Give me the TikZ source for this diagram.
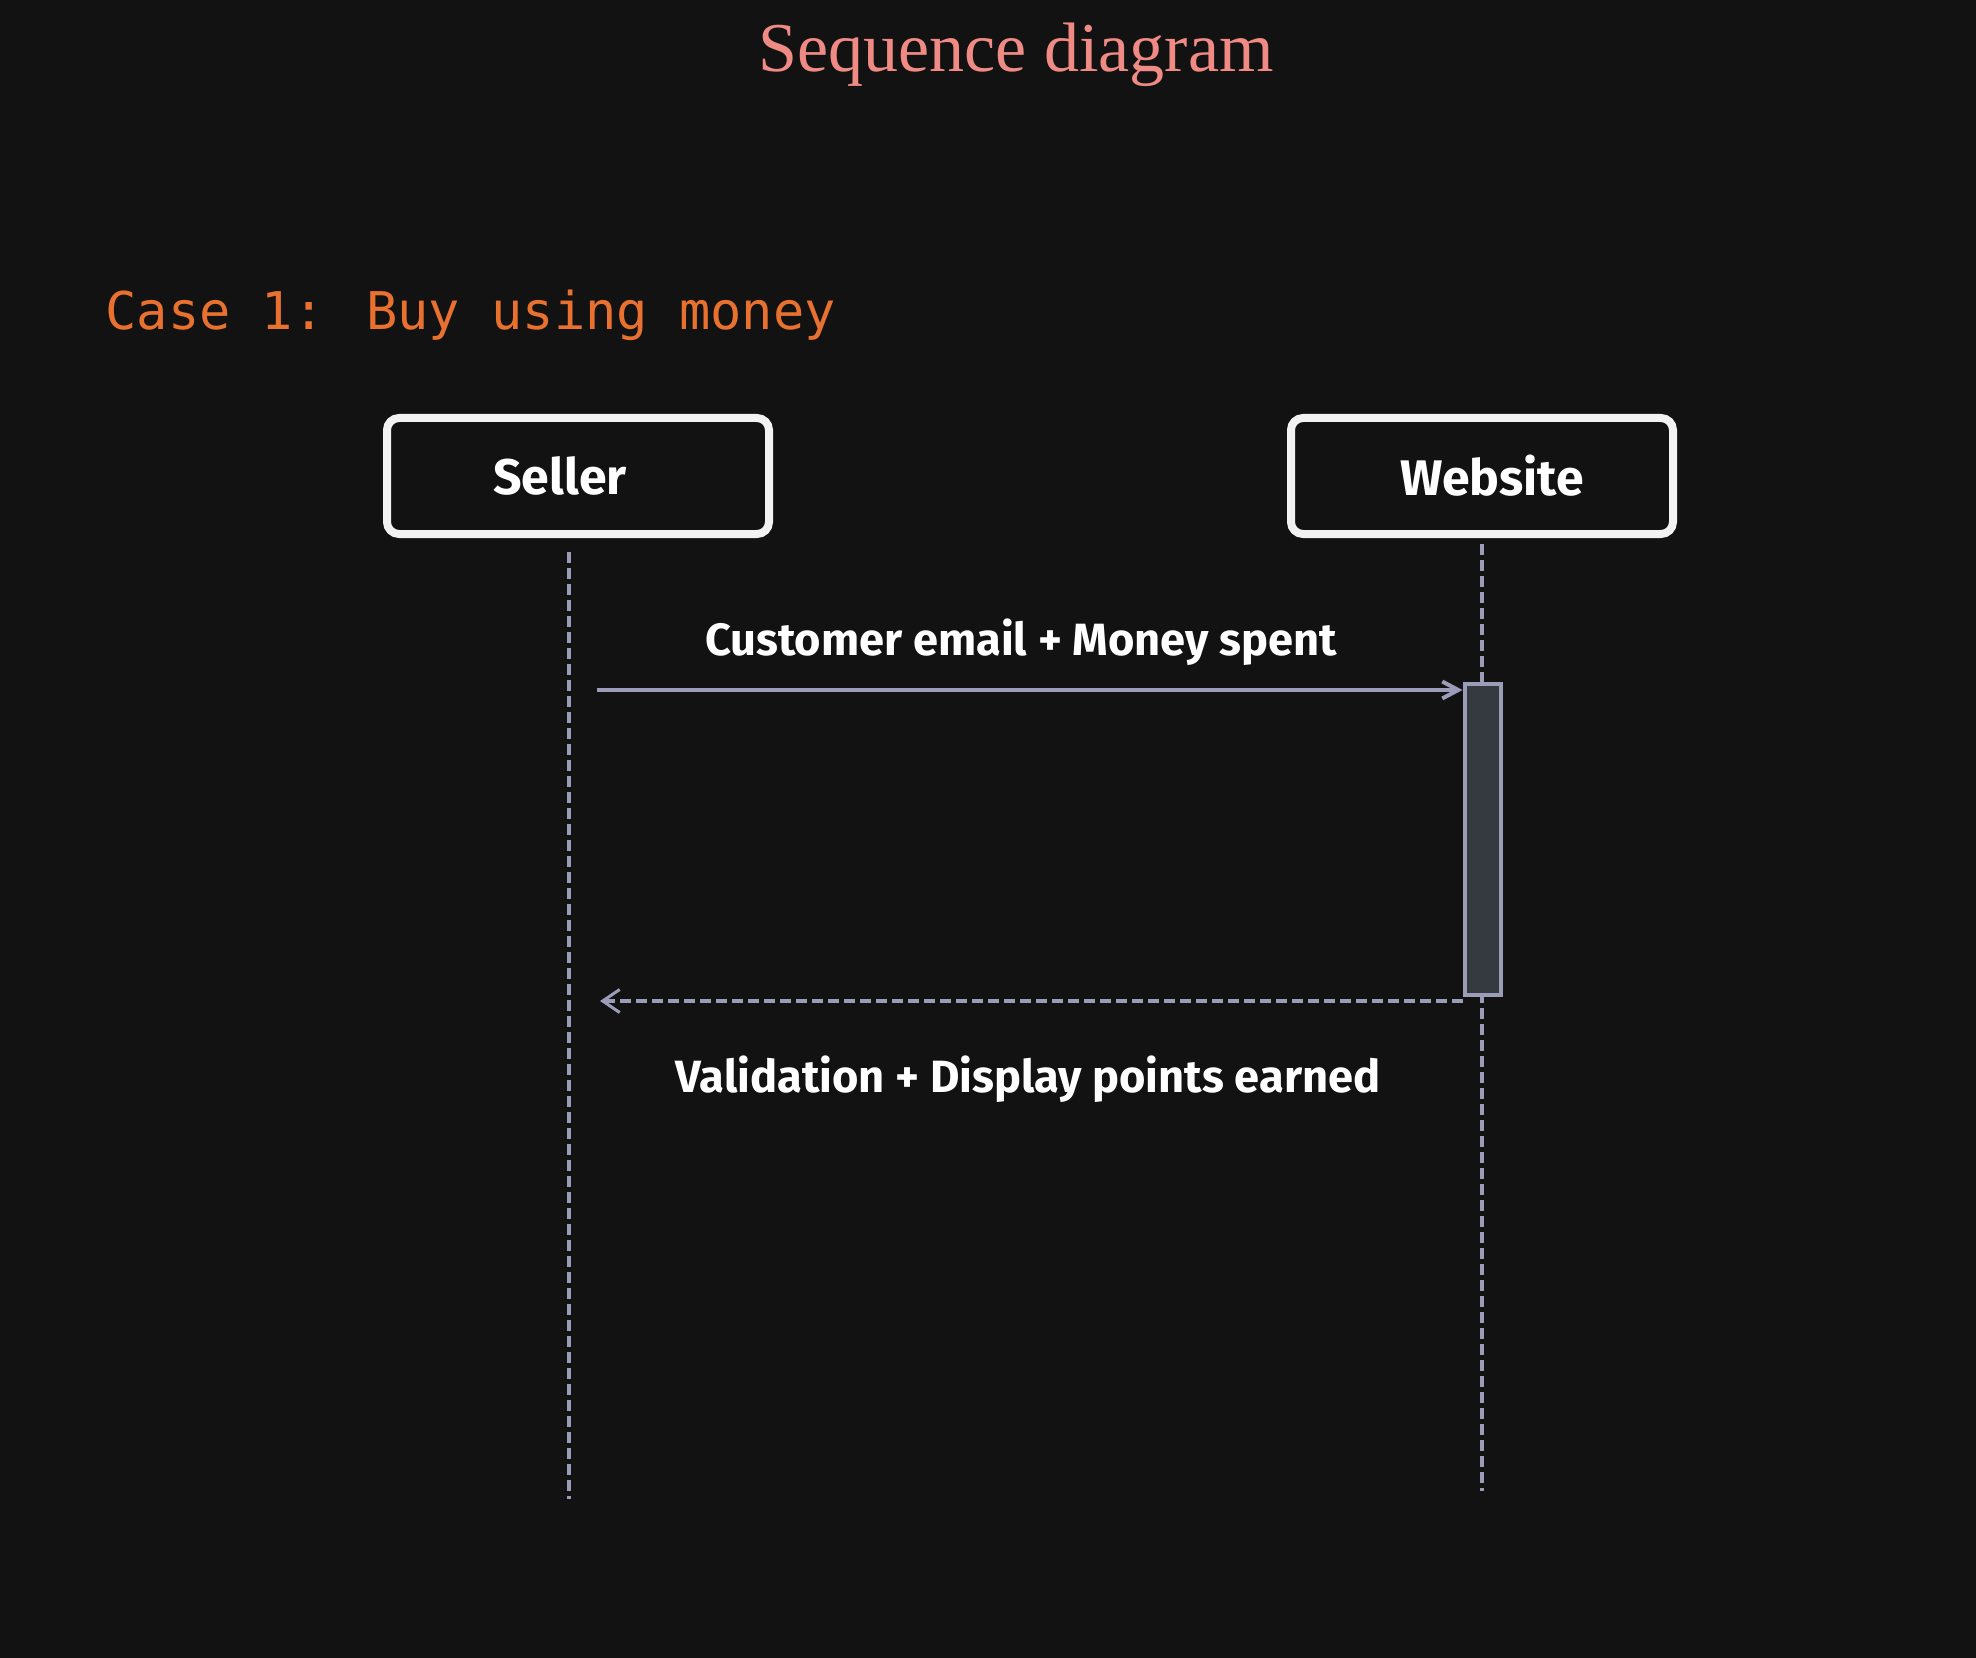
\documentclass[tikz,border=0pt]{standalone}
\usepackage{fontspec}
\setmainfont{Liberation Serif}
\newfontfamily\handfont{Fira Sans}
\newfontfamily\codefont{DejaVu Sans Mono}
\usetikzlibrary{arrows.meta, positioning}
\definecolor{bgcol}{HTML}{121212}
\definecolor{titlecol}{HTML}{F08A84}
\definecolor{casecol}{HTML}{E8712F}
\definecolor{linecol}{HTML}{9A9CB8}
\definecolor{actcol}{HTML}{343A40}
\definecolor{boxcol}{HTML}{F2F2F2}
\tikzset{
  actor/.style={draw=boxcol, line width=4pt, rounded corners=6pt, fill=bgcol, minimum width=191pt, minimum height=58pt, text=white, font=\handfont\bfseries\fontsize{25}{30}\selectfont},
  lifeline/.style={draw=linecol, line width=2pt, dash pattern=on 5.5pt off 2.5pt},
  msgtext/.style={text=white, anchor=base, font=\handfont\bfseries\fontsize{22.6}{27}\selectfont},
  activation/.style={draw=linecol, line width=2pt, fill=actcol, minimum width=18pt, minimum height=155.5pt, inner sep=0pt}
}

\begin{document}
\begin{tikzpicture}[x=0.5pt, y=-0.5pt]
            \fill[bgcol] (0,0) rectangle (1976,1658);
            \useasboundingbox (0,0) rectangle (1976,1658);
            \node[anchor=base, text=titlecol, font=\fontsize{35}{40}\selectfont] (title) at (1016,72) {Sequence diagram};
            \node[anchor=base west, inner sep=0pt, text=casecol, font=\codefont\fontsize{26}{30}\selectfont] (case) at (105,330) {Case 1: Buy using money};
            \node[actor] (seller) at (578,476) {Seller\hspace*{18pt}};
            \node[actor] (website) at (1482,476) {\hspace*{10pt}Website};
            \coordinate (sellertop) at (569,552);
            \coordinate (sellerend) at (569,1499);
            \coordinate (websitetop) at (1482,544);
            \coordinate (websiteend) at (1482,1491);
            \draw[lifeline] (sellertop)--(sellerend);
            \draw[lifeline] (websitetop)--(websiteend);
            \node[activation] (act) at (1482.5,839.5) {};
            \coordinate (sendstart) at (597,690);
            \coordinate (returnend) at (600,1001);
            \draw[linecol, line width=2pt, -{Straight Barb[length=8pt, width=8.5pt]}] (sendstart)--(act.north west |- sendstart);
            \draw[linecol, line width=2.4pt, dash pattern=on 5.5pt off 2.5pt, -{Straight Barb[length=8.5pt, width=11.5pt, line width=1.5pt]}] (act.south west |- returnend)--(returnend);
            \node[msgtext] (sendlabel) at (1021,655) {Customer email + Money spent};
            \node[msgtext] (returnlabel) at (1028,1092) {Validation + Display points earned};
        \end{tikzpicture}
\end{document}
